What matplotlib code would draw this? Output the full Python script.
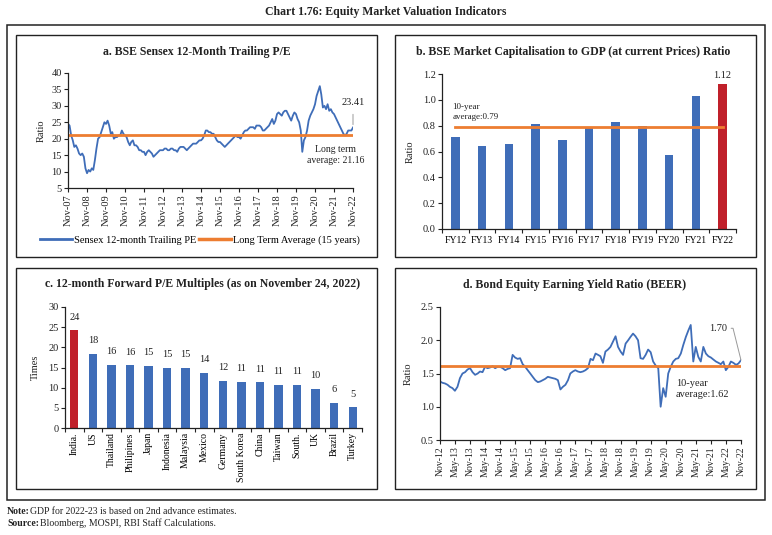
import matplotlib
matplotlib.use('Agg')
import matplotlib.pyplot as plt
import matplotlib.dates as mdates
from matplotlib.patches import Rectangle
from matplotlib.lines import Line2D
import pandas as pd

plt.rcParams['font.family'] = ['Liberation Serif', 'DejaVu Serif']

# a. Sensex 12-month trailing P/E, monthly, Nov-07 .. Nov-22
pe_inicio = '2007-11-01'
pe_valores = [
    24.5, 24.0, 21.0, 19.5, 17.5, 18.0, 17.0, 15.5, 15.0, 15.5, 14.5, 11.0,
    9.5, 10.5, 10.0, 11.0, 10.5, 13.5, 17.0, 20.0, 20.5, 22.0, 23.5, 25.0,
    24.5, 25.5, 24.0, 21.5, 22.0, 20.0, 20.5, 20.5, 21.0, 21.0, 22.5, 21.5,
    21.0, 20.5, 19.0, 18.0, 19.0, 19.5, 18.0, 18.0, 17.5, 16.5, 16.5, 16.0,
    16.0, 15.0, 16.0, 16.5, 16.0, 15.5, 14.5, 15.0, 15.5, 16.0, 16.5, 16.5,
    16.5, 17.0, 17.0, 16.5, 16.5, 17.0, 17.0, 16.5, 16.5, 16.0, 17.0, 17.5,
    17.5, 17.5, 17.0, 16.5, 17.0, 17.5, 18.0, 18.5, 18.5, 18.5, 19.0, 19.5,
    19.5, 20.0, 21.0, 22.5, 22.5, 22.0, 22.0, 21.5, 21.5, 20.5, 19.5, 19.0,
    19.0, 18.5, 18.0, 17.5, 18.0, 18.5, 19.0, 19.5, 20.0, 20.5, 21.0, 20.5,
    20.5, 20.0, 21.0, 22.0, 22.5, 22.5, 23.0, 23.5, 23.5, 23.5, 23.0, 24.0,
    24.0, 24.0, 23.5, 22.5, 22.5, 23.0, 23.5, 24.0, 25.0, 26.0, 24.5, 25.5,
    27.5, 28.0, 27.5, 27.0, 28.0, 28.5, 28.5, 27.5, 26.5, 25.5, 27.0, 28.0,
    27.5, 26.0, 25.0, 22.5, 16.0, 19.5, 20.5, 22.5, 25.5, 27.0, 28.0, 29.0,
    30.5, 33.0, 34.5, 36.0, 33.5, 29.5, 30.0, 29.0, 30.5, 28.5, 29.0, 28.0,
    27.5, 26.5, 25.5, 24.5, 23.5, 22.5, 21.5, 21.0, 21.5, 22.5, 22.5, 22.5,
    23.41,
]
pe_media = 21.16

# b. market cap to GDP
anos_fy = ['FY12', 'FY13', 'FY14', 'FY15', 'FY16', 'FY17', 'FY18', 'FY19', 'FY20', 'FY21', 'FY22']
mcap_gdp = [0.71, 0.64, 0.66, 0.81, 0.69, 0.79, 0.83, 0.80, 0.57, 1.03, 1.12]
mcap_media = 0.79

# c. forward P/E
paises = ['India.', 'US', 'Thailand', 'Philipines', 'Japan', 'Indonesia', 'Malaysia', 'Mexico',
          'Germany', 'South Korea', 'China', 'Taiwan', 'South.', 'UK', 'Brazil', 'Turkey']
pe_forward = [24.2, 18.3, 15.7, 15.5, 15.4, 14.9, 14.8, 13.6, 11.7, 11.4, 11.3, 10.7, 10.7, 9.6, 6.2, 5.1]
pe_forward_rotulos = ['24', '18', '16', '16', '15', '15', '15', '14', '12', '11', '11', '11', '11', '10', '6', '5']

# d. BEER, monthly, Nov-12 .. Nov-22
beer_inicio = '2012-11-01'
beer_valores = [
    1.38, 1.36, 1.35, 1.33, 1.30, 1.28, 1.24, 1.30, 1.43, 1.50, 1.52, 1.56,
    1.58, 1.52, 1.48, 1.50, 1.53, 1.52, 1.60, 1.58, 1.59, 1.61, 1.58, 1.60,
    1.60, 1.58, 1.55, 1.57, 1.58, 1.78, 1.74, 1.72, 1.73, 1.64, 1.60, 1.55,
    1.50, 1.45, 1.40, 1.37, 1.38, 1.40, 1.42, 1.45, 1.44, 1.43, 1.42, 1.40,
    1.26, 1.30, 1.33, 1.40, 1.50, 1.53, 1.55, 1.53, 1.52, 1.53, 1.55, 1.58,
    1.72, 1.70, 1.80, 1.78, 1.76, 1.66, 1.83, 1.86, 1.90, 1.98, 2.06, 1.90,
    1.83, 1.78, 1.95, 2.00, 2.05, 2.10, 2.06, 2.00, 1.73, 1.72, 1.78, 1.86,
    1.82, 1.68, 1.62, 1.58, 1.00, 1.28, 1.15, 1.50, 1.60, 1.68, 1.72, 1.73,
    1.80, 1.93, 2.05, 2.15, 2.23, 1.68, 1.90, 1.75, 1.68, 1.90, 1.80, 1.76,
    1.74, 1.71, 1.68, 1.66, 1.64, 1.68, 1.55, 1.60, 1.68, 1.66, 1.63, 1.65,
    1.70,
]
beer_media = 1.62

AZUL = '#3F6DB8'
LARANJA = '#ED7D31'
VERMELHO = '#C0202A'
CINZA = '#222222'

W, H = 772, 535
fig = plt.figure(figsize=(W / 100, H / 100), dpi=100)


def caixa(x0, y0, x1, y1, lw=1.0):
    fig.add_artist(Rectangle((x0 / W, 1 - y1 / H), (x1 - x0) / W, (y1 - y0) / H,
                             transform=fig.transFigure, fill=False, lw=lw, ec=CINZA))


def eixo(x0, y0, x1, y1):
    ax = fig.add_axes([x0 / W, 1 - y1 / H, (x1 - x0) / W, (y1 - y0) / H])
    ax.spines[['top', 'right']].set_visible(False)
    for s in ['left', 'bottom']:
        ax.spines[s].set_color(CINZA)
        ax.spines[s].set_linewidth(0.9)
    ax.tick_params(direction='out', length=3, width=0.8, labelsize=7.5, colors=CINZA, pad=1.5)
    return ax


def titulo(x, y, texto):
    fig.text(x / W, 1 - y / H, texto, ha='center', va='center', fontsize=8.5, fontweight='bold', color=CINZA)


# molduras
caixa(7, 25, 765, 500, 1.1)
caixa(16, 35, 377, 257)
caixa(395, 35, 756, 257)
caixa(16, 268, 377, 489)
caixa(395, 268, 756, 489)

fig.text(386 / W, 1 - 12 / H, 'Chart 1.76: Equity Market Valuation Indicators', ha='center', va='center',
         fontsize=8.5, fontweight='bold', color=CINZA)

# ---- painel a ----
titulo(197, 52, 'a. BSE Sensex 12-Month Trailing P/E')
ax = eixo(68, 73, 353, 188)
datas_pe = pd.date_range(pe_inicio, periods=len(pe_valores), freq='MS')
ax.plot(datas_pe, pe_valores, color=AZUL, lw=1.3)
ax.plot([datas_pe[0], datas_pe[-1]], [pe_media, pe_media], color=LARANJA, lw=2)
ax.set_xlim(datas_pe[0], datas_pe[-1])
ax.set_ylim(5, 40)
ax.set_yticks(range(5, 41, 5))
ax.set_xticks(pd.date_range(pe_inicio, periods=16, freq='12MS'))
ax.xaxis.set_major_formatter(mdates.DateFormatter('%b-%y'))
ax.tick_params(axis='x', labelrotation=90)
ax.set_ylabel('Ratio', fontsize=7.5, labelpad=4, color=CINZA)
ax.annotate('23.41', xy=(datas_pe[-1], 24.3), xytext=(datas_pe[-1], 30.9), ha='center', va='center',
            fontsize=7.5, color=CINZA,
            arrowprops=dict(arrowstyle='-', color='#999999', lw=0.7, shrinkA=3, shrinkB=0))
ax.text(pd.Timestamp('2021-12-01'), 15.1, 'Long term\naverage: 21.16', ha='center', va='center',
        fontsize=7, color=CINZA, linespacing=1.3)
alcas = [Line2D([], [], color=AZUL, lw=2), Line2D([], [], color=LARANJA, lw=2.5)]
fig.legend(alcas, ['Sensex 12-month Trailing PE', 'Long Term Average (15 years)'],
           loc='center', bbox_to_anchor=(200 / W, 1 - 240 / H), ncol=2, frameon=False,
           fontsize=7.5, handlelength=3, columnspacing=0.3, handletextpad=0.2)

# ---- painel b ----
titulo(573, 52, 'b. BSE Market Capitalisation to GDP (at current Prices) Ratio')
ax = eixo(442, 74, 736, 229)
xb = list(range(len(anos_fy)))
cores_b = [AZUL] * (len(anos_fy) - 1) + [VERMELHO]
ax.bar(xb, mcap_gdp, width=0.32, color=cores_b)
ax.plot([xb[0], xb[-1]], [mcap_media, mcap_media], color=LARANJA, lw=2)
ax.set_xlim(-0.5, len(anos_fy) - 0.5)
ax.set_ylim(0, 1.2)
ax.set_yticks([0, 0.2, 0.4, 0.6, 0.8, 1.0, 1.2])
ax.set_yticklabels(['0.0', '0.2', '0.4', '0.6', '0.8', '1.0', '1.2'])
ax.set_xticks([i - 0.5 for i in range(len(anos_fy) + 1)])
ax.set_xticklabels([])
ax.set_xticks(xb, minor=True)
ax.set_xticklabels(anos_fy, minor=True, fontsize=7)
ax.tick_params(axis='x', which='minor', length=0, pad=5)
ax.set_ylabel('Ratio', fontsize=7.5, labelpad=6, color=CINZA)
ax.text(xb[-1], mcap_gdp[-1] + 0.03, '1.12', ha='center', va='bottom', fontsize=7.5, color=CINZA)
ax.text(-0.1, 0.905, '10-year\naverage:0.79', ha='left', va='center', fontsize=6.5, color=CINZA, linespacing=1.3)

# ---- painel c ----
titulo(203, 284, 'c. 12-month Forward P/E Multiples (as on November 24, 2022)')
ax = eixo(65, 307, 362, 428)
xc = list(range(len(paises)))
cores_c = [VERMELHO] + [AZUL] * (len(paises) - 1)
ax.bar(xc, pe_forward, width=0.45, color=cores_c)
for x, v, r in zip(xc, pe_forward, pe_forward_rotulos):
    ax.text(x, v + 2.2, r, ha='center', va='bottom', fontsize=7.5, color=CINZA)
ax.set_xlim(-0.5, len(paises) - 0.5)
ax.set_ylim(0, 30)
ax.set_yticks(range(0, 31, 5))
ax.set_xticks([i - 0.5 for i in range(len(paises) + 1)])
ax.set_xticklabels([])
ax.set_xticks(xc, minor=True)
ax.set_xticklabels(paises, minor=True, rotation=90, fontsize=7)
ax.tick_params(axis='x', which='minor', length=0, pad=3)
ax.set_ylabel('Times', fontsize=7.5, labelpad=6, color=CINZA)

# ---- painel d ----
titulo(575, 285, 'd. Bond Equity Earning Yield Ratio (BEER)')
ax = eixo(440, 307, 741, 440)
datas_beer = pd.date_range(beer_inicio, periods=len(beer_valores), freq='MS')
ax.plot(datas_beer, beer_valores, color=AZUL, lw=1.3)
ax.plot([datas_beer[0], datas_beer[-1]], [beer_media, beer_media], color=LARANJA, lw=2)
ax.set_xlim(datas_beer[0], datas_beer[-1])
ax.set_ylim(0.5, 2.5)
ax.set_yticks([0.5, 1.0, 1.5, 2.0, 2.5])
ax.set_yticklabels(['0.5', '1.0', '1.5', '2.0', '2.5'])
ax.set_xticks(pd.date_range(beer_inicio, periods=21, freq='6MS'))
ax.xaxis.set_major_formatter(mdates.DateFormatter('%b-%y'))
ax.tick_params(axis='x', labelrotation=90, labelsize=7)
ax.set_ylabel('Ratio', fontsize=7.5, labelpad=6, color=CINZA)
ax.annotate('1.70', xy=(datas_beer[-1], beer_valores[-1]), xytext=(pd.Timestamp('2022-05-15'), 2.18),
            ha='right', va='center', fontsize=7.5, color=CINZA,
            arrowprops=dict(arrowstyle='-', color='#999999', lw=0.7, shrinkA=1, shrinkB=0, relpos=(1.0, 0.5),
                            connectionstyle='angle,angleA=0,angleB=104,rad=0'))
ax.text(pd.Timestamp('2020-09-01'), 1.27, '10-year\naverage:1.62', ha='left', va='center',
        fontsize=7.5, color=CINZA, linespacing=1.3)

# notas
fig.text(7 / W, 1 - 511 / H, 'Note:', fontsize=7, fontweight='bold', va='center', color=CINZA)
fig.text(30 / W, 1 - 511 / H, 'GDP for 2022-23 is based on 2nd advance estimates.', fontsize=7, va='center', color=CINZA)
fig.text(7 / W, 1 - 523 / H, 'Source:', fontsize=7, fontweight='bold', va='center', color=CINZA)
fig.text(40 / W, 1 - 523 / H, 'Bloomberg, MOSPI, RBI Staff Calculations.', fontsize=7, va='center', color=CINZA)

fig.savefig('out.png', dpi=100)
